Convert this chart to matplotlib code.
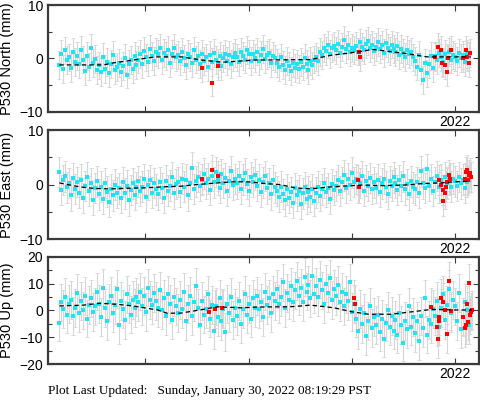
import matplotlib
matplotlib.use("Agg")
import matplotlib.pyplot as plt
import numpy as np

# time span of the cyan daily-ish solutions (decimal years)
t_start = 2018.17
t_end = 2022.13

north = [
    -1.2, 0.8, -2.0, 1.5, -0.3, 0.2, -1.8, 1.2, -0.6, 0.5,
    -1.0, 1.6, -0.2, -2.4, 0.4, -1.5, 2.0, -0.8, -0.1, -2.2,
    -1.3, -2.6, 0.3, -1.9, -0.7, -2.8, -1.0, 0.6, -2.2, -1.6,
    -0.9, -2.5, -1.4, 0.1, -3.0, -1.1, -0.3, -2.0, 0.4, -1.2,
    -0.2, 0.9, -1.0, 1.4, 0.2, -0.6, 1.8, 0.5, -0.4, 1.2,
    0.8, 2.0, -0.3, 1.1, 0.4, 1.6, -0.8, 0.9, 1.9, 0.2,
    0.6, -0.5, 1.3, 0.0, -1.2, 0.8, 0.3, -0.9, 1.5, -0.2,
    0.4, -1.0, 0.9, -0.4, 0.2, -1.6, 0.7, -0.6, 1.1, -0.3,
    -0.8, 0.5, -1.4, 0.0, 0.9, -0.5, 0.6, -1.1, 0.3, 1.0,
    0.2, -0.7, 1.2, 0.4, -0.2, 1.6, 0.8, -0.5, 0.9, 0.1,
    1.3, -0.4, 0.6, 1.8, -0.1, 0.7, 1.1, -0.9, 0.4, 0.0,
    -0.8, -1.6, 0.2, -1.2, -2.1, -0.5, -1.4, -2.4, -0.9, -1.8,
    -1.1, -2.0, -0.6, -1.5, 0.1, -1.0, -2.2, -0.4, -1.3, -0.2,
    0.3, -0.5, 1.2, 0.6, 2.0, 1.4, 2.6, 0.8, 1.9, 2.3,
    1.5, 2.8, 1.0, 2.2, 3.4, 1.7, 2.5, 1.2, 2.0, 1.6,
    2.4, 1.3, 3.0, 2.1, 1.5, 2.7, 3.3, 1.9, 2.6, 1.4,
    2.2, 3.1, 1.7, 2.5, 1.1, 2.9, 2.0, 1.4, 2.6, 1.8,
    1.2, 2.4, 0.6, 1.8, 1.0, 0.3, 1.6, 0.8, 1.3, 0.2,
    -0.5, -1.5, 0.7, -2.2, -4.0, -0.8, -2.8, -1.0, 0.4, -1.8,
    0.5, -0.3, 1.1, 0.2, -0.6, 0.8, 0.0, 1.2, -0.2, 0.6,
    0.3, -0.4, 1.0, 0.1, 0.7, -0.6, 0.9, 0.4,
]

east = [
    2.3, -1.0, 0.8, 1.5, -0.5, 0.3, -2.0, 1.2, -0.8, 0.5,
    -1.5, 0.9, -2.5, -0.3, 1.4, -1.2, 0.2, -2.8, -0.6, 0.6,
    -1.8, -0.4, -2.6, 0.3, -1.3, -3.2, -0.8, -2.0, 0.0, -1.5,
    -0.7, -2.4, 0.5, -1.6, -0.2, -2.9, -1.0, 0.2, -1.9, -0.5,
    0.6, -1.2, -0.4, 1.0, -2.2, -0.1, 0.8, -1.5, 0.3, -0.9,
    -1.8, 0.4, -0.6, -2.5, 0.7, -1.1, -0.2, 1.3, -1.6, 0.1,
    0.5, -1.3, 1.1, -0.4, 0.9, -2.0, 0.2, 3.1, -0.8, 0.6,
    1.4, -0.3, 0.9, 2.0, 0.2, 1.1, -1.0, 1.6, 0.4, 2.3,
    0.8, -0.6, 1.9, 0.3, 1.2, -1.2, 0.6, 2.5, -0.1, 1.0,
    0.2, 1.5, -0.8, 0.9, 2.1, 0.1, -1.1, 1.3, 0.5, 1.8,
    -0.3, 0.9, -1.4, 0.4, 1.6, -0.7, 0.2, -1.8, 0.8, -0.5,
    -1.2, -2.2, -0.4, -1.7, -2.9, -0.9, -2.4, -1.4, -3.3, -0.6,
    -2.0, -1.1, -3.5, -1.6, -0.5, -2.7, -1.3, -2.2, -0.8, -3.0,
    -1.5, -0.4, -2.1, -0.9, 0.3, -1.4, -0.6, -2.6, 0.1, -1.0,
    -0.3, 0.8, -1.2, 0.4, 1.7, -0.6, 1.1, -0.1, 2.2, 0.5,
    1.0, -0.5, 0.3, 1.6, -1.1, 0.7, -0.3, 1.2, -0.8, 0.4,
    -0.6, 0.9, -1.3, 0.2, 1.1, -0.4, -1.7, 0.6, -0.2, 1.3,
    0.3, -1.0, 0.8, -0.3, 1.5, -0.9, 0.1, -1.8, 0.6, -0.5,
    -0.9, 0.5, -1.5, 2.4, 0.2, -0.6, 2.8, -0.2, 1.0, -1.2,
    0.4, 1.6, -0.5, 0.9, -1.0, 1.3, 0.2, 0.8, -0.4, 1.1,
    0.6, -0.3, 1.4, 0.2, 0.9, -0.6, 0.5, 1.2,
]

up = [
    -4.5, 3.0, 0.5, 5.0, -1.5, 2.5, 4.0, -2.0, 1.0, 6.5,
    -1.0, 3.5, 0.0, 5.5, -3.0, 2.0, 4.5, -0.5, 1.5, 7.0,
    2.5, -2.5, 8.5, 1.0, -4.0, 3.0, 5.5, -1.0, 2.0, 8.0,
    -5.5, 3.5, 0.5, -3.5, 6.0, 2.5, -1.5, 4.0, 1.0, 5.0,
    3.0, 7.0, 1.5, 5.5, -0.5, 8.5, 4.0, 2.0, 6.5, 3.5,
    1.0, 7.5, 0.0, 4.5, -2.0, 6.0, 2.5, -3.5, 5.0, 1.5,
    -1.0, 4.0, 0.5, 7.0, -4.0, 2.5, 5.5, -2.0, 3.0, 9.0,
    1.0, -5.5, 3.5, -1.5, 0.5, 6.0, -3.0, 2.0, -7.5, 1.5,
    -2.5, 4.5, -4.0, 0.5, -8.0, 2.5, -1.0, 5.0, -3.5, 1.0,
    -2.0, 3.5, -5.0, 0.5, 6.0, -1.5, 2.5, -3.0, 4.5, 1.0,
    5.5, 0.5, 3.0, -2.5, 7.0, 2.0, 4.5, -1.0, 6.0, 3.5,
    8.0, 2.5, 5.0, 10.5, 1.0, 6.5, 4.0, 9.0, 3.0, 7.5,
    11.0, 5.5, 8.5, 3.0, 12.5, 7.0, 9.5, 4.5, 13.0, 6.0,
    9.0, 5.0, 11.5, 7.5, 2.5, 10.0, 6.5, 12.0, 4.0, 8.0,
    5.5, 9.5, 3.0, 7.0, 1.5, 6.0, 3.5, 10.5, -0.5, 2.5,
    -3.0, -7.5, 0.5, -5.0, -1.0, -9.5, -4.0, 1.5, -6.5, -2.5,
    -5.5, -1.5, -8.0, -3.0, -10.5, -4.5, 0.0, -6.0, -2.0, -7.5,
    -3.5, -9.0, -1.0, -5.5, -12.0, -4.0, -7.0, 1.5, -6.0, -2.5,
    -8.5, -4.0, -11.5, -2.0, -6.5, 4.5, -9.0, -3.5, -5.0, 0.5,
    -2.0, 3.5, -6.0, 1.0, 6.0, -3.5, 2.0, 8.0, -1.0, 4.0,
    1.5, -4.0, 6.5, -7.0, -2.5, 3.0, 0.0, -5.5,
]

# red (rapid/outlier) solutions
north_red_t = [2019.55, 2019.65, 2019.70, 2021.07, 2021.08, 2021.80, 2021.83,
               2021.86, 2021.87, 2021.90, 2021.92, 2021.93, 2021.96,
               2022.08, 2022.10, 2022.11, 2022.13, 2022.14]
north_red = [-1.8, -4.5, -1.4, 1.3, 0.2, 0.3, 2.2, 1.6, -0.9, -1.2, -2.5, 0.1, 1.6,
             0.1, 1.6, 0.3, -0.8, 1.0]

east_red_t = [2019.55, 2019.65, 2019.70, 2021.06, 2021.07, 2021.84, 2021.86,
              2021.88, 2021.88, 2021.90, 2021.91, 2021.92, 2021.94, 2021.95,
              2022.09, 2022.10, 2022.11, 2022.12, 2022.13, 2022.14, 2022.15]
east_red = [1.0, 2.7, 1.6, 0.8, -0.5, 0.8, -0.1, -1.0, -3.0, -1.6, -0.4, 0.4, 1.7, 1.1,
            1.1, 2.3, 2.7, 0.8, 1.7, 2.1, 1.4]

up_red_t = [2019.62, 2019.68, 2019.74, 2021.02, 2021.03, 2021.77, 2021.82, 2021.83,
            2021.84, 2021.84, 2021.86, 2021.88, 2021.90, 2021.92, 2021.94, 2021.96,
            2022.08, 2022.09, 2022.10, 2022.11, 2022.12, 2022.13, 2022.14, 2022.15, 2022.16]
up_red = [-0.5, 0.5, 1.0, 4.5, 2.5, 1.3, -6.1, -10.8, -2.3, -3.9, 4.7, 3.1, 0.2, -8.9,
          11.0, -0.2, -2.3, -6.7, -5.4, 2.3, -4.2, 10.2, -1.7, -0.4, 0.2]

# fitted model curves
north_model_t = [2018.17, 2018.60, 2018.70, 2019.10, 2019.35, 2019.55, 2019.75,
                 2020.05, 2020.60, 2020.80, 2021.08, 2021.20, 2021.50, 2021.73, 2022.15]
north_model = [-1.2, -1.2, -0.8, 0.3, 0.3, -0.3, -0.7, -0.3, -0.2, 0.6, 1.3, 1.7, 1.0,
               0.3, 0.3]

east_model_t = [2018.17, 2018.30, 2018.40, 2018.50, 2018.65, 2018.80, 2019.00, 2019.20,
                2019.35, 2019.50, 2019.70, 2019.85, 2020.00, 2020.15, 2020.30, 2020.45,
                2020.60, 2020.75, 2020.90, 2021.10, 2021.30, 2021.50, 2021.70, 2021.85,
                2022.00, 2022.15]
east_model = [0.3, -0.2, -0.5, -0.7, -0.8, -0.7, -0.6, -0.4, -0.3, 0.0, 0.3, 0.5, 0.5,
              0.2, 0.0, -0.6, -0.8, -0.5, -0.3, -0.1, -0.2, -0.1, 0.2, 0.3, 0.5, 0.6]

up_model_t = [2018.17, 2018.40, 2018.56, 2018.73, 2018.88, 2019.12, 2019.21, 2019.34,
              2019.53, 2019.70, 2019.92, 2020.10, 2020.41, 2020.60, 2020.83, 2020.99,
              2021.16, 2021.38, 2021.60, 2021.77, 2021.99, 2022.16]
up_model = [1.7, 2.0, 2.7, 2.3, 1.7, 0.2, -1.0, -1.0, 0.2, 1.4, 1.0, 1.3, 1.4, 2.0, 1.0,
            -0.4, -1.4, -1.4, -0.4, 0.4, 0.2, 0.2]

sigma = {"North": 2.6, "East": 2.8, "Up": 7.0}

CYAN = "#20e4f4"
GRAY = "#d6d6d6"
SPINE = "#3a3a3a"


def draw_panel(ax, name, vals, red_t, red_v, model_t, model_v, ylim, minor):
    t = np.linspace(t_start, t_end, len(vals))
    s = sigma[name]
    ax.errorbar(t, vals, yerr=s, fmt="none", ecolor=GRAY, elinewidth=0.8,
                capsize=1.6, capthick=0.6, zorder=1)
    ax.errorbar(red_t, red_v, yerr=s, fmt="none", ecolor=GRAY, elinewidth=0.8,
                capsize=1.6, capthick=0.6, zorder=1)
    ax.plot(t, vals, "s", color=CYAN, markersize=2.4, markeredgewidth=0, zorder=2)
    ax.plot(red_t, red_v, "s", color="red", markersize=2.4, markeredgewidth=0, zorder=3)
    ax.plot(model_t, model_v, color="black", lw=0.9, dashes=(3.5, 2.5), zorder=4)

    ax.set_xlim(2018.06, 2022.23)
    ax.set_ylim(*ylim)
    ax.set_xticks([2019, 2020, 2021, 2022])
    ax.set_xticklabels(["", "", "", "2022"])
    ax.set_yticks(minor, minor=True)
    ax.tick_params(which="both", direction="in", top=True, right=True,
                   color=SPINE, labelsize=10, width=0.8)
    ax.tick_params(which="major", length=4)
    ax.tick_params(which="minor", length=3)
    ax.tick_params(axis="x", pad=2)
    for sp in ax.spines.values():
        sp.set_linewidth(1.6)
        sp.set_color(SPINE)
    ax.set_ylabel(f"P530 {name} (mm)", fontsize=10.5, labelpad=4)


plt.rcParams["font.family"] = ["Liberation Sans", "DejaVu Sans"]
fig = plt.figure(figsize=(4.81, 4.04), dpi=100)

ax1 = fig.add_axes([0.0998, 0.7228, 0.896, 0.2648])
ax2 = fig.add_axes([0.0998, 0.4084, 0.896, 0.2696])
ax3 = fig.add_axes([0.0998, 0.0990, 0.896, 0.2649])

draw_panel(ax1, "North", north, north_red_t, north_red, north_model_t, north_model,
           (-10, 10), [-5, 5])
ax1.set_yticks([-10, 0, 10])
draw_panel(ax2, "East", east, east_red_t, east_red, east_model_t, east_model,
           (-10, 10), [-5, 5])
ax2.set_yticks([-10, 0, 10])
draw_panel(ax3, "Up", up, up_red_t, up_red, up_model_t, up_model,
           (-20, 20), [-15, -5, 5, 15])
ax3.set_yticks([-20, -10, 0, 10, 20])

fig.text(0.0998, 0.017, "Plot Last Updated:   Sunday, January 30, 2022 08:19:29 PST",
         family="Liberation Serif", fontsize=9.5, ha="left", va="bottom")

fig.savefig("out.png", dpi=100)
